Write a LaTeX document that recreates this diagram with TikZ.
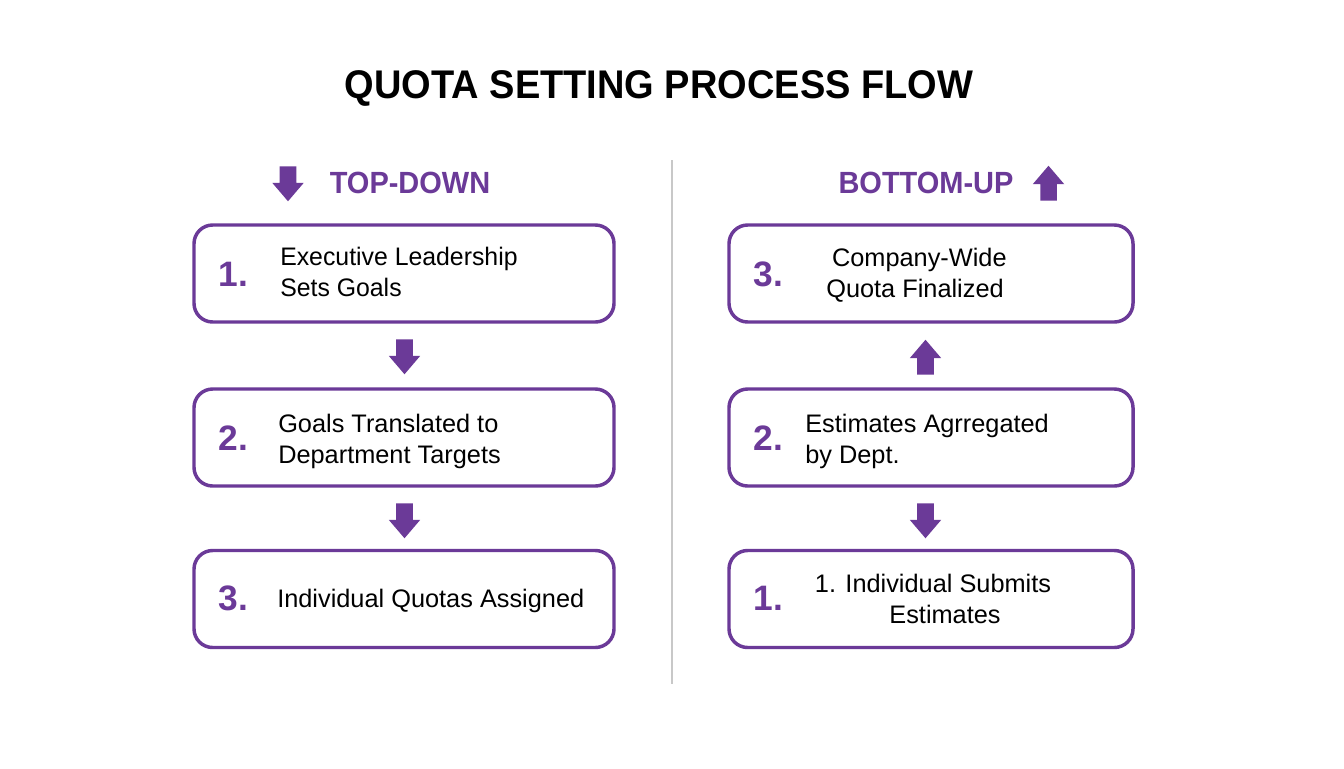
\documentclass[tikz,border=0pt]{standalone}
\usepackage{fontspec}
\usetikzlibrary{shapes.arrows}
\setmainfont{Liberation Sans}
\definecolor{pur}{HTML}{6B3A98}
\definecolor{rulegray}{HTML}{C8C8C8}
\tikzset{
 x=0.75pt,y=-0.75pt,
 lbox/.style={draw=pur,line width=2.6pt,rounded corners=14pt,fill=white,minimum width=315pt,minimum height=72.75pt,inner sep=0},
 rbox/.style={lbox,minimum width=303pt},
 num/.style={text=pur,font=\fontsize{26.5}{26.5}\selectfont\bfseries,anchor=center,inner sep=0},
 lbl/.style={text=black,font=\fontsize{19}{23.5}\selectfont,anchor=west,inner sep=0,align=left},
 lblc/.style={text=black,font=\fontsize{19}{23.5}\selectfont,anchor=center,inner sep=0,align=center},
 head/.style={text=pur,font=\fontsize{23}{23}\selectfont\bfseries,anchor=center,inner sep=0,xscale=0.945},
 blockarrow/.style={single arrow,draw=none,fill=pur,inner xsep=0pt,inner ysep=6pt,minimum height=26.25pt,minimum width=23.25pt,single arrow head extend=5.6pt,single arrow tip angle=81,single arrow head indent=0pt,anchor=tail},
 downarrow/.style={blockarrow,rotate=-90},
 uparrow/.style={blockarrow,rotate=90},
}
\begin{document}
\begin{tikzpicture}
\useasboundingbox (0,0) rectangle (1344,768);
\fill[white] (0,0) rectangle (1344,768);
\node[font=\fontsize{30}{30}\selectfont\bfseries,inner sep=0,xscale=0.95] (title) at (659,88.5) {QUOTA SETTING PROCESS FLOW};
\coordinate (ruletop) at (672,160); \coordinate (rulebot) at (672,684);
\draw[rulegray,line width=1pt] (ruletop) -- (rulebot);
\node[head] (hl) at (410,183) {TOP-DOWN};
\node[head] (hr) at (926,183) {BOTTOM-UP};
% boxes
\node[lbox] (b1) at (404,273.5) {};
\node[lbox] (b2) at (404,437.5) {};
\node[lbox] (b3) at (404,599) {};
\node[rbox] (c3) at (931,273.5) {};
\node[rbox] (c2) at (931,437.5) {};
\node[rbox] (c1) at (931,599) {};
\node[num] (n1) at (233.5,274) {1.};
\node[num] (n2) at (233.5,438) {2.};
\node[num] (n3) at (233.5,598) {3.};
\node[num] (m3) at (768.5,274) {3.};
\node[num] (m2) at (768.5,438) {2.};
\node[num] (m1) at (768.5,598) {1.};
\node[lbl,xscale=0.98] (t1) at (280,272) {Executive Leadership\\Sets Goals};
\node[lbl] (t2) at (278,441.5) {Goals Translated to\\Department Targets};
\node[lbl] (t3) at (277,601) {Individual Quotas Assigned};
\node[lblc] (u3) at (915,275) {\hspace*{6.5pt}Company-Wide\\Quota Finalized};
\node[lbl] (u2) at (805,441.5) {Estimates Agrregated\\by Dept.};
\node[lblc] (u1) at (933,599) {1. Individual Submits\\\hspace*{18pt}Estimates};
% arrows
\node[downarrow] (al) at (288,166) {};
\node[uparrow] (ar) at (1048.5,201) {};
\node[downarrow] (d1) at (404.5,339) {};
\node[downarrow] (d2) at (404.5,503) {};
\node[uparrow] (e1) at (925.5,375) {};
\node[downarrow] (e2) at (925.5,503) {};
\end{tikzpicture}
\end{document}
